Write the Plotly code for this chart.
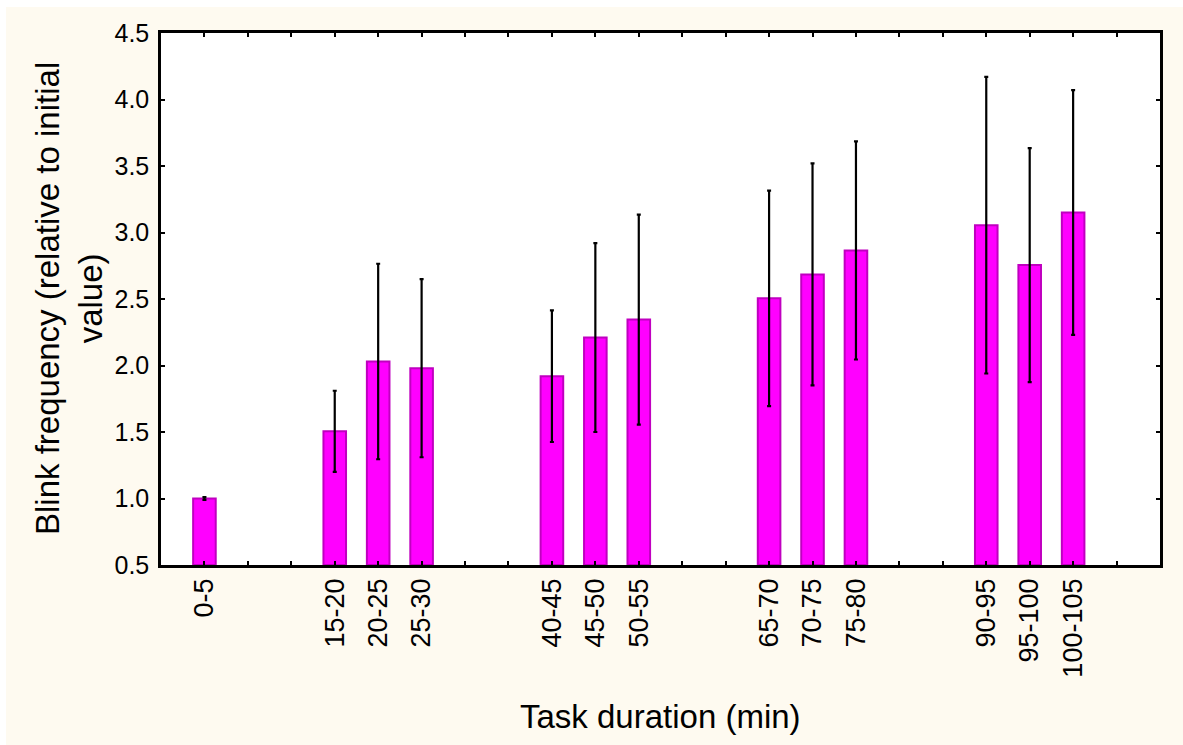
import plotly.graph_objects as go

# Blink frequency relative to the initial value, per 5-minute task interval
categories = ["0-5", "15-20", "20-25", "25-30", "40-45", "45-50", "50-55",
              "65-70", "70-75", "75-80", "90-95", "95-100", "100-105"]
means = [1.00, 1.505, 2.03, 1.98, 1.92, 2.21, 2.345,
         2.505, 2.685, 2.865, 3.055, 2.755, 3.15]
errors = [0.01, 0.305, 0.735, 0.67, 0.495, 0.71, 0.79,
          0.81, 0.835, 0.82, 1.115, 0.88, 0.92]
y_ticks = [0.5, 1.0, 1.5, 2.0, 2.5, 3.0, 3.5, 4.0, 4.5]

SLOT = 5  # minutes per interval
n_slots = 22
Y_FLOOR = 0.5

# Position of each interval on a continuous slot axis (empty slots keep their place)
positions = [int(c.split("-")[0]) // SLOT for c in categories]
slot_vals = list(range(n_slots))
slot_text = [categories[positions.index(s)] if s in positions else ""
             for s in slot_vals]

FONT = "Arial, Liberation Sans, sans-serif"

fig = go.Figure()
# bars rise from the axis floor; tops sit at the mean values
fig.add_trace(go.Bar(
    x=positions,
    y=[m - Y_FLOOR for m in means],
    base=Y_FLOOR,
    width=0.52,
    marker=dict(color="#FF00FF", line=dict(color="#C000C0", width=2)),
    error_y=dict(type="data", array=errors, visible=True,
                 color="black", thickness=2.2, width=2),
    showlegend=False,
))

fig.update_layout(
    width=1183, height=745,
    margin=dict(l=161, r=23, t=33, b=180),
    paper_bgcolor="white",
    plot_bgcolor="rgba(0,0,0,0)",
    font=dict(family=FONT, color="black"),
    shapes=[
        dict(type="rect", xref="paper", yref="paper", layer="below",
             x0=(6 - 161) / 999, x1=(1190 - 161) / 999,
             y0=(565 - 750) / 532, y1=(565 - 7) / 532,
             fillcolor="#FEFAF0", line=dict(width=0)),
        dict(type="rect", xref="paper", yref="paper", layer="below",
             x0=0, x1=1, y0=0, y1=1,
             fillcolor="white", line=dict(width=0)),
    ],
    annotations=[
        dict(text="Blink frequency (relative to initial<br>value)",
             xref="paper", yref="paper", x=0, y=0.5,
             xanchor="center", yanchor="middle", xshift=-92,
             textangle=-90, showarrow=False,
             font=dict(size=33, family=FONT, color="black")),
        dict(text="Task duration (min)",
             xref="paper", yref="paper", x=0.5, y=0,
             xanchor="center", yanchor="middle", yshift=-151,
             showarrow=False,
             font=dict(size=33, family=FONT, color="black")),
    ],
)

fig.update_xaxes(
    range=[-1, 22],
    tickmode="array", tickvals=slot_vals, ticktext=slot_text,
    tickangle=-90,
    ticks="inside", ticklen=4, tickwidth=2, tickcolor="black",
    showline=True, linecolor="black", linewidth=2.5, mirror="ticks",
    showgrid=False, zeroline=False,
    tickfont=dict(size=27, family=FONT, color="black"),
)
fig.update_yaxes(
    range=[0.5, 4.5],
    tickmode="array", tickvals=y_ticks,
    ticktext=[f"{v:.1f}" for v in y_ticks],
    ticks="inside", ticklen=4, tickwidth=2, tickcolor="black",
    ticklabelstandoff=4,
    showline=True, linecolor="black", linewidth=2.5, mirror="ticks",
    showgrid=False, zeroline=False,
    tickfont=dict(size=25, family=FONT, color="black"),
)

fig.write_html("out.html")
